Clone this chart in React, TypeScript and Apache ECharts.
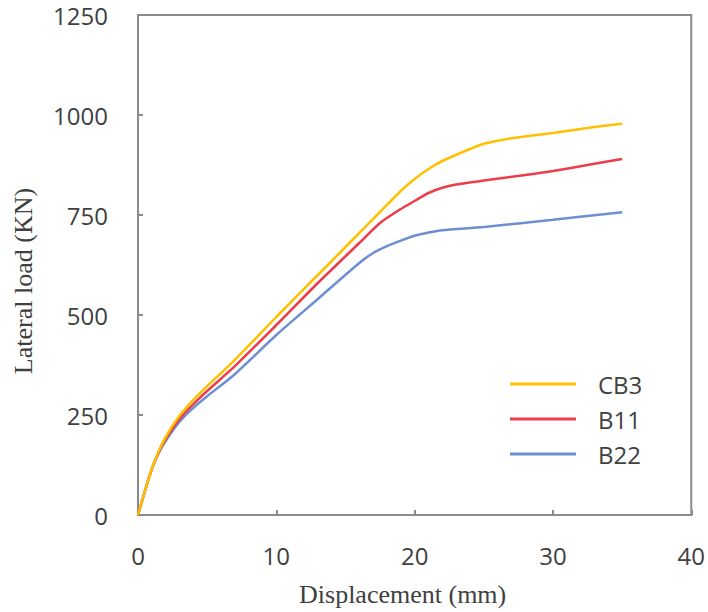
import React, { useEffect, useRef } from "react";
import * as echarts from "echarts";

const seriesNames = ["CB3", "B11", "B22"];
const seriesColors = ["#FFC000", "#EE3D48", "#6D8FD2"];

const cb3: [number, number][] = [
  [0, 0], [0.5, 60], [1, 115], [1.5, 160], [2, 195], [3, 248], [4, 288], [5, 322],
  [7, 388], [10, 495], [13, 600], [16, 705], [19, 810], [20, 840], [21, 865], [22, 885],
  [24, 915], [25, 928], [27, 942], [30, 955], [33, 970], [35, 978],
];
const b11: [number, number][] = [
  [0, 0], [0.5, 60], [1, 115], [1.5, 158], [2, 190], [3, 240], [4, 277], [5, 310],
  [7, 372], [10, 475], [13, 580], [16, 680], [17.5, 730], [19, 765], [20, 785], [21, 805],
  [22, 818], [23, 826], [25, 836], [28, 850], [30, 860], [33, 878], [35, 890],
];
const b22: [number, number][] = [
  [0, 0], [0.5, 60], [1, 115], [1.5, 155], [2, 185], [3, 233], [4, 268], [5, 297],
  [7, 352], [10, 450], [13, 540], [16, 630], [17, 655], [18, 672], [19, 686], [20, 698],
  [21, 706], [22, 712], [25, 720], [30, 738], [35, 757],
];
const seriesData = [cb3, b11, b22];

const xTitle = "Displacement (mm)";
const yTitle = "Lateral load (KN)";

export default function App() {
  const ref = useRef<HTMLDivElement>(null);
  useEffect(() => {
    if (!ref.current) return;
    const chart = echarts.init(ref.current, null, { renderer: "svg" });
    const axisColor = "#8a8a8a";
    const labelFont = { fontFamily: "Open Sans", fontSize: 24, color: "#404040" };
    chart.setOption({
      animation: false,
      backgroundColor: "#ffffff",
      grid: {
        left: 138, right: 15, top: 15, bottom: 97,
        show: true, borderColor: axisColor, borderWidth: 2, backgroundColor: "transparent",
      },
      legend: {
        orient: "vertical",
        left: 505,
        top: 367,
        itemWidth: 66,
        itemHeight: 3,
        itemGap: 11,
        icon: "rect",
        data: seriesNames,
        textStyle: { ...labelFont, lineHeight: 24, padding: [0, 0, 0, 17] },
      },
      xAxis: {
        type: "value",
        min: 0, max: 40, interval: 10,
        name: xTitle,
        nameLocation: "middle",
        nameGap: 66,
        nameTextStyle: {
          fontFamily: "Liberation Serif", fontSize: 26, color: "#404040",
          padding: [0, 24, 0, 0],
        },
        axisLine: { show: true, lineStyle: { color: axisColor, width: 2 } },
        axisTick: { show: true, inside: true, length: 5, lineStyle: { color: axisColor, width: 2 } },
        axisLabel: { ...labelFont, margin: 28, formatter: (v: number) => String(v) },
        splitLine: { show: false },
      },
      yAxis: {
        type: "value",
        min: 0, max: 1250, interval: 250,
        name: yTitle,
        nameLocation: "middle",
        nameGap: 102,
        nameTextStyle: {
          fontFamily: "Liberation Serif", fontSize: 26, color: "#404040",
          padding: [0, 32, 0, 0],
        },
        axisLine: { show: true, lineStyle: { color: axisColor, width: 2 } },
        axisTick: { show: true, inside: true, length: 5, lineStyle: { color: axisColor, width: 2 } },
        axisLabel: { ...labelFont, margin: 30, formatter: (v: number) => String(v) },
        splitLine: { show: false },
      },
      series: seriesNames.map((n, i) => ({
        name: n,
        type: "line",
        data: seriesData[i],
        smooth: 0.25,
        showSymbol: false,
        symbol: "none",
        color: seriesColors[i],
        lineStyle: { width: 2.5, color: seriesColors[i] },
        z: 3 - i,
      })),
    });
    return () => chart.dispose();
  }, []);
  return (
    <div
      ref={ref}
      style={{ position: "fixed", left: 0, top: 0, width: 708, height: 612 }}
    />
  );
}
